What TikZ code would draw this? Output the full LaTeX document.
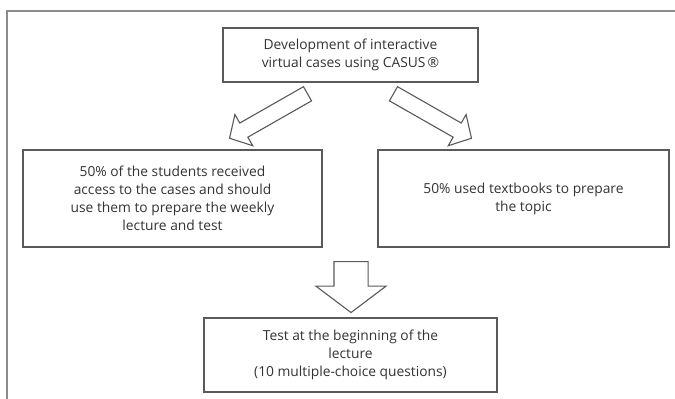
\documentclass[tikz,border=0pt]{standalone}
\usepackage{fontspec}
\setmainfont{Open Sans}
\usetikzlibrary{shapes.arrows}
\definecolor{linegray}{HTML}{5A5A5A}
\definecolor{framegray}{HTML}{8C8C8C}
\definecolor{textgray}{HTML}{333333}
\tikzset{
	flowbox/.style={draw=linegray, line width=1.2pt, text=textgray, align=center,
		inner sep=0pt, font=\fontsize{13.8}{18}\selectfont},
	blockarrow/.style={single arrow, draw=linegray, line width=1.1pt, fill=white,
		inner xsep=0pt, anchor=tail}
}
\begin{document}
\begin{tikzpicture}[x=1pt, y=1pt]
		\useasboundingbox (0,0) rectangle (675,-399);
		\draw[framegray, line width=1.6pt] (7,-420) -- (7,-11) -- (700,-11);
		
		\node[flowbox, minimum width=255pt, minimum height=54pt] (devbox) at (350.5,-55)
		{Development of interactive\\virtual cases using CASUS\,®};
		\node[flowbox, minimum width=299pt, minimum height=97pt] (casesbox) at (172.5,-198.5)
		{50\% of the students received\\access to the cases and should\\use them to prepare the weekly\\lecture and test};
		\node[flowbox, minimum width=291pt, minimum height=97pt] (booksbox) at (523.5,-198.5)
		{50\% used textbooks to prepare\\the topic};
		\node[flowbox, minimum width=293pt, minimum height=74pt] (testbox) at (350.5,-355)
		{Test at the beginning of the\\lecture\\(10 multiple-choice questions)};
		
		\node[blockarrow, rotate=209.7, minimum height=89.8pt, inner ysep=7.6pt,
			single arrow head extend=9.8pt, single arrow tip angle=95] (arrowL) at (308,-93.5) {};
		\node[blockarrow, rotate=-29.7, minimum height=89.8pt, inner ysep=7.6pt,
			single arrow head extend=9.8pt, single arrow tip angle=95] (arrowR) at (393,-93.5) {};
		\node[blockarrow, rotate=-90, minimum height=51pt, inner ysep=16.5pt,
			single arrow head extend=18pt, single arrow tip angle=106] (arrowD) at (351,-261) {};
\end{tikzpicture}
\end{document}
